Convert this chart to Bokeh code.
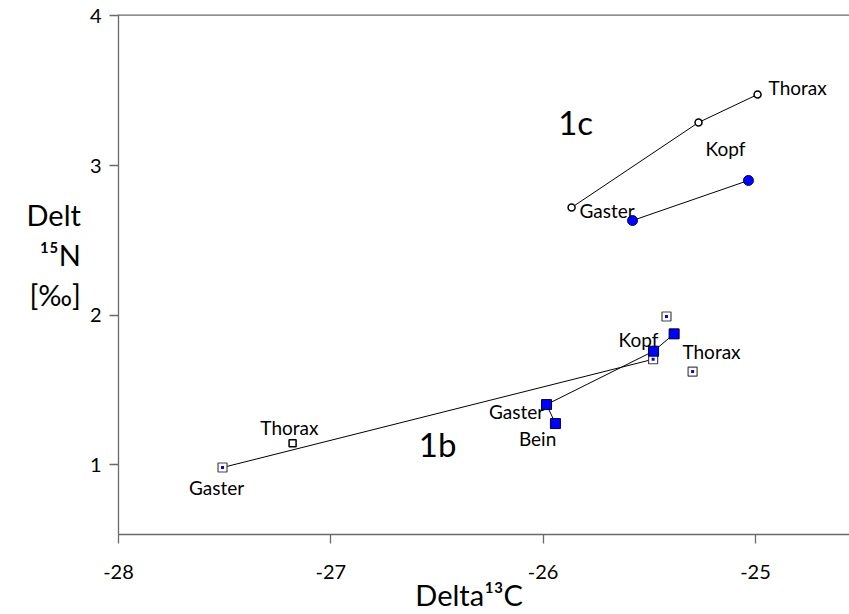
from bokeh.plotting import figure
from bokeh.models import Range1d, FixedTicker
from bokeh.embed import file_html
from bokeh.resources import INLINE
from bokeh.core.properties import value

FONT = "Lato"

# ---- data (Delta13C, Delta15N) ----
# 1c: open circles (Gaster, Kopf, Thorax)
c_open_x = [-25.866, -25.268, -24.990]
c_open_y = [2.719, 3.288, 3.475]
# 1c: blue circles
c_blue_x = [-25.579, -25.033]
c_blue_y = [2.632, 2.900]
# 1b: blue squares (Bein, Gaster, Kopf, Thorax)
b_blue_x = [-25.942, -25.984, -25.480, -25.383]
b_blue_y = [1.274, 1.401, 1.758, 1.874]
# 1b: open squares with blue centre
b_open_x = [-27.510, -25.482, -25.419, -25.296]
b_open_y = [0.980, 1.704, 1.990, 1.622]
# 1b: Thorax open square
b_thor_x = [-27.180]
b_thor_y = [1.142]
# 1b: line from Gaster to Kopf
b_line_x = [-27.510, -25.482]
b_line_y = [0.980, 1.704]

x_ticks = [-28, -27, -26, -25]
x_tick_labels = ["-28", "-27", "-26", "-25"]
y_ticks = [1, 2, 3, 4]

x_title = "Delta\u00b9\u00b3C"
y_title = "Delt\n\u00b9\u2075N\n[\u2030]\n"

# point labels
lab_text = ["Thorax", "Gaster"]
lab_x = [-24.938, -25.829]
lab_y = [3.522, 2.699]
clab_text = ["Kopf", "Thorax", "Gaster", "Gaster", "Bein", "Kopf", "Thorax"]
clab_x = [-25.141, -27.195, -27.538, -26.125, -26.026, -25.551, -25.207]
clab_y = [3.114, 1.247, 0.846, 1.355, 1.174, 1.836, 1.756]

X0, X1, Y0, Y1 = -28.0, -24.557, 0.532, 4.010

p = figure(width=849, height=614, output_backend="svg", toolbar_location=None,
           x_range=Range1d(X0, X1), y_range=Range1d(Y0, Y1),
           min_border_left=118, min_border_right=0, min_border_top=14,
           min_border_bottom=80)
p.grid.visible = False
p.outline_line_color = None
p.background_fill_color = "white"
p.border_fill_color = "white"

for ax in (p.xaxis[0], p.yaxis[0]):
    ax.axis_line_color = "#6a6a6a"
    ax.axis_line_width = 1.3
    ax.major_tick_line_color = "#6a6a6a"
    ax.major_tick_line_width = 1.3
    ax.major_tick_out = 9
    ax.major_tick_in = 0
    ax.minor_tick_line_color = None
    ax.major_label_text_font = FONT
    ax.major_label_text_font_size = "20px"
    ax.major_label_text_color = "black"
    ax.axis_label_text_font = FONT
    ax.axis_label_text_font_size = "29px"
    ax.axis_label_text_font_style = "normal"
    ax.axis_label_text_color = "black"
p.xaxis.ticker = FixedTicker(ticks=x_ticks)
p.yaxis.ticker = FixedTicker(ticks=y_ticks)
p.xaxis.major_label_overrides = {t: s for t, s in zip(x_ticks, x_tick_labels)}
p.xaxis.major_label_standoff = 21
p.yaxis.major_label_standoff = 8
p.xaxis.axis_label = x_title + "\u00a0" * 4
p.xaxis.axis_label_standoff = -5
p.xaxis.axis_label_text_line_height = 1.0
p.yaxis.axis_label = y_title
p.yaxis.axis_label_orientation = "horizontal"
p.yaxis.axis_label_standoff = 6
p.yaxis.axis_label_text_line_height = 1.15

# top spine
p.line(x=[X0, X1], y=[Y1, Y1], line_color="#6a6a6a", line_width=2.6)

# lines
p.line(c_open_x, c_open_y, line_color="black", line_width=1)
p.line(c_blue_x, c_blue_y, line_color="black", line_width=1)
p.line(b_blue_x, b_blue_y, line_color="black", line_width=1)
p.line(b_line_x, b_line_y, line_color="black", line_width=1)

# markers
p.scatter(c_open_x, c_open_y, marker="circle", size=7, fill_color="white",
          line_color="black", line_width=1.5)
p.scatter(c_blue_x, c_blue_y, marker="circle", size=10, fill_color="#0000ff",
          line_color="#000066", line_width=1)
p.scatter(b_open_x, b_open_y, marker="square", size=9, fill_color="white",
          line_color="#444444", line_width=1.2)
p.scatter(b_open_x, b_open_y, marker="square", size=3, fill_color="#0000ff",
          line_color=None)
p.scatter(b_thor_x, b_thor_y, marker="square", size=7, fill_color="white",
          line_color="black", line_width=1.5)
p.scatter(b_blue_x, b_blue_y, marker="square", size=10, fill_color="#0000ff",
          line_color="#000033", line_width=1)

# point labels
p.text(lab_x, lab_y, text=lab_text, text_font=value(FONT), text_font_size="19px",
       text_align="left", text_baseline="middle", text_color="black")
p.text(clab_x, clab_y, text=clab_text, text_font=value(FONT), text_font_size="19px",
       text_align="center", text_baseline="middle", text_color="black")

# group labels
p.text([-25.847, -26.497], [3.288, 1.140], text=["1c", "1b"], text_font=value(FONT),
       text_font_size="33px", text_align="center", text_baseline="middle",
       text_color="black")

open("out.html", "w").write(file_html(p, INLINE))
